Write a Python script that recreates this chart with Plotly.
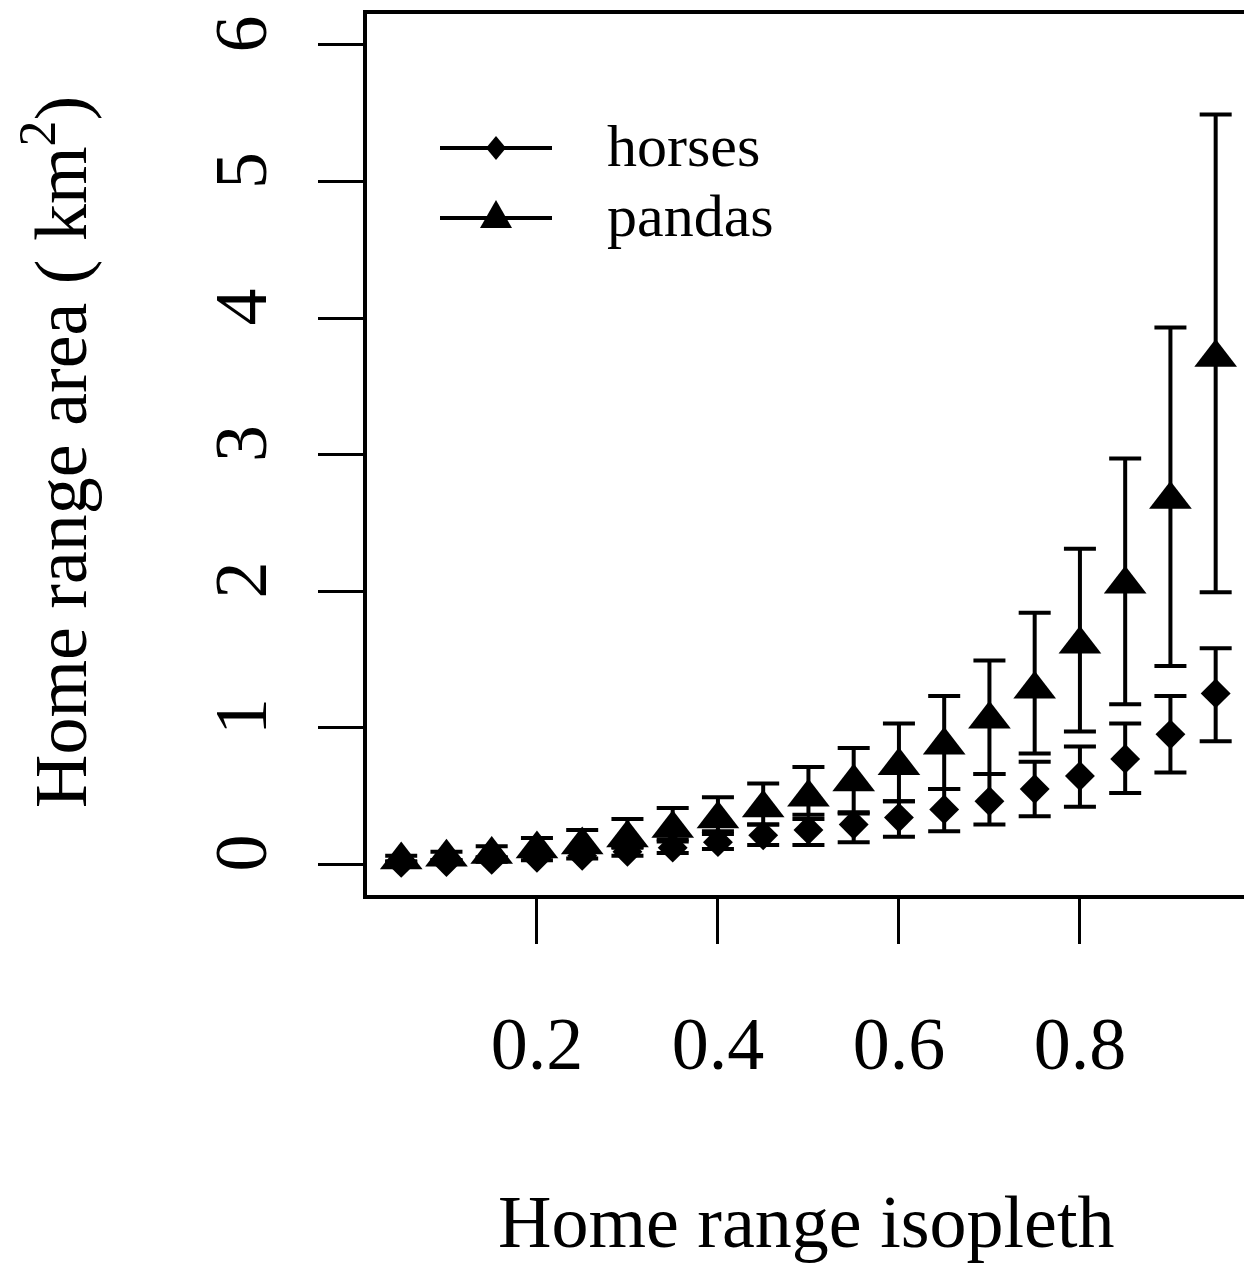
import plotly.graph_objects as go

isopleth = [0.05, 0.10, 0.15, 0.20, 0.25, 0.30, 0.35, 0.40, 0.45, 0.50,
            0.55, 0.60, 0.65, 0.70, 0.75, 0.80, 0.85, 0.90, 0.95]

horses_mean = [0.008, 0.015, 0.03, 0.045, 0.06, 0.09, 0.12, 0.16, 0.21, 0.25,
               0.29, 0.34, 0.40, 0.46, 0.55, 0.645, 0.77, 0.95, 1.25]
horses_upper = [0.015, 0.025, 0.045, 0.065, 0.09, 0.125, 0.165, 0.22, 0.29, 0.33,
                0.37, 0.46, 0.55, 0.66, 0.75, 0.86, 1.03, 1.23, 1.58]
horses_lower = [0.003, 0.008, 0.017, 0.028, 0.04, 0.06, 0.08, 0.11, 0.14, 0.14,
                0.16, 0.20, 0.24, 0.29, 0.35, 0.42, 0.52, 0.67, 0.90]

pandas_mean = [0.03, 0.05, 0.07, 0.11, 0.14, 0.19, 0.26, 0.33, 0.41, 0.49,
               0.60, 0.72, 0.87, 1.06, 1.28, 1.61, 2.05, 2.67, 3.71]
pandas_upper = [0.06, 0.09, 0.13, 0.19, 0.25, 0.33, 0.41, 0.49, 0.59, 0.71,
                0.85, 1.03, 1.23, 1.49, 1.84, 2.31, 2.97, 3.93, 5.49]
pandas_lower = [0.02, 0.03, 0.05, 0.07, 0.09, 0.12, 0.18, 0.24, 0.29, 0.36,
                0.38, 0.46, 0.55, 0.66, 0.81, 0.97, 1.17, 1.45, 1.99]

x_ticks = [0.2, 0.4, 0.6, 0.8]
x_ticklabels = ["0.2", "0.4", "0.6", "0.8"]
y_ticks = [0, 1, 2, 3, 4, 5, 6]
y_ticklabels = ["0", "1", "2", "3", "4", "5", "6"]

series_names = ["horses", "pandas"]

FONT = "Liberation Serif, Times New Roman, serif"


def err(mean, upper, lower):
    plus = [u - m for u, m in zip(upper, mean)]
    minus = [m - l for m, l in zip(mean, lower)]
    return dict(type="data", array=plus, arrayminus=minus, visible=True,
                color="black", thickness=4, width=16)


fig = go.Figure()
fig.add_trace(go.Scatter(
    x=isopleth, y=horses_mean, mode="markers", name=series_names[0],
    marker=dict(symbol="diamond", size=23, color="black", line=dict(width=0)),
    error_y=err(horses_mean, horses_upper, horses_lower), showlegend=False))
fig.add_trace(go.Scatter(
    x=isopleth, y=pandas_mean, mode="markers", name=series_names[1],
    marker=dict(symbol="triangle-up", size=37, color="black", line=dict(width=0)),
    error_y=err(pandas_mean, pandas_upper, pandas_lower), showlegend=False))

W, H = 1244, 1266
L, T, B = 367, 14, 895
PW = W - L
PH = B - T


def px_x(px):
    return (px - L) / PW


def px_y(py):
    return (B - py) / PH


shapes = []
annotations = []
leg_rows = [148, 218]
diamond_path = "M 0,-12 L 10,0 L 0,12 L -10,0 Z"
triangle_path = "M -16,-10 L 16,-10 L 0,18 Z"
for name, row, path in zip(series_names, leg_rows, [diamond_path, triangle_path]):
    shapes.append(dict(type="line", xref="paper", yref="paper",
                       x0=px_x(440), x1=px_x(552), y0=px_y(row), y1=px_y(row),
                       line=dict(color="black", width=4)))
    shapes.append(dict(type="path", xref="paper", yref="paper",
                       xsizemode="pixel", ysizemode="pixel",
                       xanchor=px_x(496), yanchor=px_y(row), path=path,
                       fillcolor="black", line=dict(width=0)))
    annotations.append(dict(text=name, xref="paper", yref="paper",
                            x=px_x(605), y=px_y(row - 2), xanchor="left", yanchor="middle",
                            showarrow=False, font=dict(family=FONT, size=60, color="black")))

annotations.append(dict(text="Home range isopleth", xref="paper", yref="paper",
                        x=px_x(806), y=0, yshift=-(1222 - B), xanchor="center",
                        yanchor="middle", showarrow=False,
                        font=dict(family=FONT, size=74, color="black")))
annotations.append(dict(text="Home range area ( km<sup>2</sup>)", xref="paper", yref="paper",
                        x=0, xshift=-(L - 55), y=px_y(452), textangle=-90, xanchor="center",
                        yanchor="middle", showarrow=False,
                        font=dict(family=FONT, size=74, color="black")))

fig.update_layout(
    width=W, height=H,
    margin=dict(l=L, r=0, t=T, b=H - B, pad=0),
    paper_bgcolor="white", plot_bgcolor="white",
    showlegend=False,
    font=dict(family=FONT, size=74, color="black"),
    shapes=shapes, annotations=annotations,
    xaxis=dict(range=[0.0122, 0.9813], tickvals=x_ticks, ticktext=x_ticklabels,
               showgrid=False, zeroline=False, showline=True, linecolor="black",
               linewidth=4, mirror=True, ticks="outside", ticklen=45, tickwidth=3,
               tickcolor="black", ticklabelstandoff=36,
               tickfont=dict(family=FONT, size=74, color="black")),
    yaxis=dict(range=[-0.227, 6.227], tickvals=y_ticks, ticktext=y_ticklabels,
               showgrid=False, zeroline=False, showline=True, linecolor="black",
               linewidth=4, mirror=False, ticks="outside", ticklen=45, tickwidth=3,
               tickcolor="black", tickangle=-90, ticklabelstandoff=22,
               tickfont=dict(family=FONT, size=74, color="black")),
)

fig.write_html("out.html", config={"displayModeBar": False},
               post_script="document.body.style.margin='0';")
